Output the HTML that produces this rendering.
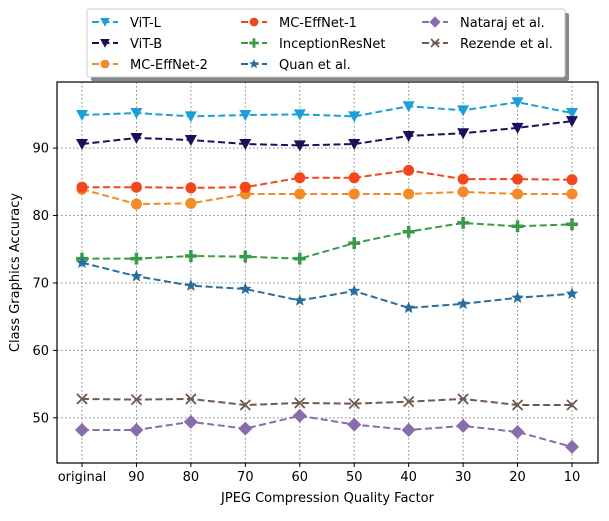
<!DOCTYPE html>
<html><head><meta charset="utf-8"><style>
body{margin:0;background:#fff;font-family:"Liberation Sans","DejaVu Sans",sans-serif}
svg text{font-family:"DejaVu Sans","Liberation Sans",sans-serif}
</style></head><body>
<svg id="c" width="609" height="516"></svg>
<script>
const categories=["original","90","80","70","60","50","40","30","20","10"];
const yTicks=[50,60,70,80,90];
const vitL=[94.9,95.2,94.7,94.9,95.0,94.7,96.2,95.6,96.8,95.2];
const vitB=[90.6,91.5,91.2,90.6,90.4,90.6,91.8,92.2,93.0,94.0];
const effnet1=[84.2,84.2,84.1,84.2,85.6,85.6,86.7,85.4,85.4,85.3];
const effnet2=[83.9,81.7,81.8,83.2,83.2,83.2,83.2,83.5,83.2,83.2];
const inception=[73.6,73.6,74.0,73.9,73.6,75.9,77.6,78.9,78.4,78.7];
const quan=[73.0,71.0,69.6,69.1,67.4,68.8,66.3,66.9,67.8,68.4];
const nataraj=[48.2,48.2,49.4,48.4,50.3,49.0,48.2,48.8,47.9,45.7];
const rezende=[52.8,52.7,52.8,51.9,52.2,52.1,52.4,52.8,51.9,51.9];
const seriesNames=["ViT-L","ViT-B","MC-EffNet-2","MC-EffNet-1","InceptionResNet","Quan et al.","Nataraj et al.","Rezende et al."];

const svg=document.getElementById('c');const NS="http://www.w3.org/2000/svg";
const L=57,R=598,T=82,B=463,yMin=43.3,yMax=99.8;
const x=i=>82+i*(572-82)/(categories.length-1);
const y=v=>B-(v-yMin)/(yMax-yMin)*(B-T);
function mk(t,a,p){const e=document.createElementNS(NS,t);for(const k in a)e.setAttribute(k,a[k]);(p||svg).appendChild(e);return e;}
categories.forEach((c,i)=>{
 const g=mk('line',{x1:x(i),x2:x(i),y1:T,y2:B,stroke:'#777','stroke-dasharray':'1.5,2.5','stroke-width':0.9});
 
 
 mk('line',{x1:x(i),x2:x(i),y1:B,y2:B+4,stroke:'#000'});
 const t=mk('text',{x:x(i),y:B+18,'text-anchor':'middle','font-size':13});t.textContent=c;
 
 
});
yTicks.forEach(v=>{
 const g=mk('line',{x1:L,x2:R,y1:y(v),y2:y(v),stroke:'#777','stroke-dasharray':'1.5,2.5','stroke-width':0.9});
 
 
 mk('line',{x1:L-4,x2:L,y1:y(v),y2:y(v),stroke:'#000'});
 const t=mk('text',{x:L-8,y:y(v)+4.5,'text-anchor':'end','font-size':13});t.textContent=v;
 
 
});
const frame=mk('rect',{x:L,y:T,width:R-L,height:B-T,fill:'none',stroke:'#000','stroke-width':1.2});


const xl=mk('text',{x:(L+R)/2,y:502,'text-anchor':'middle','font-size':13});xl.textContent="JPEG Compression Quality Factor";


const yl=mk('text',{x:19,y:(T+B)/2,'text-anchor':'middle','font-size':13,transform:`rotate(-90 19 ${(T+B)/2})`});yl.textContent="Class Graphics Accuracy";



function marker(type,cx,cy,col,p,s){
 s=s||1;let e;
 if(type==='tri')e=mk('polygon',{points:`${cx-6*s},${cy-5*s} ${cx+6*s},${cy-5*s} ${cx},${cy+6*s}`,fill:col},p);
 else if(type==='circ')e=mk('circle',{cx:cx,cy:cy,r:5.5*s,fill:col},p);
 else if(type==='plus')e=mk('path',{d:`M${cx-6*s},${cy}L${cx+6*s},${cy}M${cx},${cy-6*s}L${cx},${cy+6*s}`,stroke:col,'stroke-width':3.5*s},p);
 else if(type==='star'){let pts=[];for(let k=0;k<10;k++){const r=(k%2?2.8:6.5)*s,a=-Math.PI/2+k*Math.PI/5;pts.push((cx+r*Math.cos(a))+','+(cy+r*Math.sin(a)));}e=mk('polygon',{points:pts.join(' '),fill:col},p);}
 else if(type==='dia')e=mk('polygon',{points:`${cx},${cy-7*s} ${cx+7*s},${cy} ${cx},${cy+7*s} ${cx-7*s},${cy}`,fill:col},p);
 else e=mk('path',{d:`M${cx-5*s},${cy-5*s}L${cx+5*s},${cy+5*s}M${cx+5*s},${cy-5*s}L${cx-5*s},${cy+5*s}`,stroke:col,'stroke-width':1.8},p);
 return e;
}
const defs=[[vitL,'#1a9fd8','tri','vit-l'],[vitB,'#1f0e5e','tri','vit-b'],[effnet2,'#f28c28','circ','mc-effnet-2'],[effnet1,'#f2471b','circ','mc-effnet-1'],[inception,'#3a9a48','plus','inceptionresnet'],[quan,'#2a6e9f','star','quan'],[nataraj,'#8b6cab','dia','nataraj'],[rezende,'#6f5a52','x','rezende']];
defs.forEach(([d,col,m,n])=>{
 const g=mk('g',{});
 
 
 mk('polyline',{points:d.map((v,i)=>x(i)+','+y(v)).join(' '),fill:'none',stroke:col,'stroke-width':2,'stroke-dasharray':'7,3.5'},g);
 d.forEach((v,i)=>{const e=marker(m,x(i),y(v),col,g);
  
  });
});
const lg=mk('g',{});


mk('rect',{x:91,y:13,width:478,height:68,fill:'#888',rx:2},lg);
mk('rect',{x:87,y:9,width:478,height:68,fill:'#fff',stroke:'#ccc',rx:2},lg);
const layout=[[0,0,0],[1,0,1],[2,0,2],[3,1,0],[4,1,1],[5,1,2],[6,2,0],[7,2,1]];
layout.forEach(([k,c,r])=>{
 const ox=[92,241,422][c],oy=22+r*21;
 const [d,col,m,n]=defs[k];
 const e=mk('g',{},lg);
 
 
 mk('line',{x1:ox,x2:ox+26,y1:oy,y2:oy,stroke:col,'stroke-width':2,'stroke-dasharray':'7,3.5'},e);
 marker(m,ox+13,oy,col,e,0.8);
 const t=mk('text',{x:ox+38,y:oy+5,'font-size':13},e);t.textContent=seriesNames[k];
});
</script>
</body></html>
